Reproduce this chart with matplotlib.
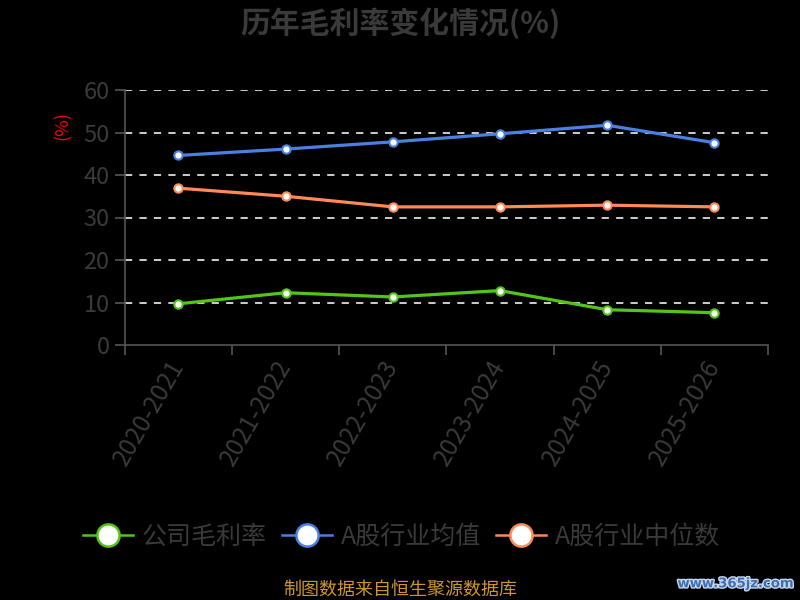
import numpy as np
import matplotlib
matplotlib.use('Agg')
import matplotlib.pyplot as plt
import matplotlib.patheffects as pe
from matplotlib.lines import Line2D

plt.rcParams['font.family'] = ['Noto Sans CJK SC', 'DejaVu Sans']

# Data
years = ['2020-2021', '2021-2022', '2022-2023', '2023-2024', '2024-2025', '2025-2026']
company = [9.7, 12.3, 11.3, 12.8, 8.3, 7.6]
industry_mean = [44.6, 46.1, 47.8, 49.7, 51.7, 47.6]
industry_median = [36.9, 35.0, 32.5, 32.5, 32.9, 32.5]
labels = ['公司毛利率', 'A股行业均值', 'A股行业中位数']
colors = ['#52c41a', '#4a80e0', '#ff8a56']

text_color = '#3a3a3a'

fig = plt.figure(figsize=(8, 6), dpi=100, facecolor='black')
ax = fig.add_axes([0.156, 0.425, 0.804, 0.425])
ax.set_facecolor('black')

x = np.arange(len(years))
for vals, c in zip([company, industry_mean, industry_median], colors):
    ax.plot(x, vals, color=c, lw=2.3, marker='o', markersize=6,
            markerfacecolor='white', markeredgecolor=c, markeredgewidth=1.5, zorder=3)

ax.set_xlim(-0.5, len(years) - 0.5)
ax.set_ylim(0, 60)
ax.set_yticks(np.arange(0, 61, 10))
ax.tick_params(axis='y', colors='#555555', labelcolor=text_color, labelsize=17,
               length=7, width=1.2, pad=4)

# category labels at centers, tick marks at boundaries
ax.set_xticks(x)
ax.set_xticklabels(years, rotation=60, ha='right', va='center', rotation_mode='anchor',
                   color=text_color, fontsize=17.5)
ax.tick_params(axis='x', which='major', length=0, pad=12)
ax.set_xticks(np.arange(-0.5, len(years)), minor=True)
ax.tick_params(axis='x', which='minor', length=7, width=1.2, colors='#555555')

for v in np.arange(10, 61, 10):
    ax.axhline(v, color='#dddddd', lw=1.3, ls=(0, (4, 4)), zorder=1)

for s in ['top', 'right']:
    ax.spines[s].set_visible(False)
ax.spines['left'].set_color('#555555')
ax.spines['bottom'].set_color('#555555')
ax.spines['left'].set_linewidth(1.2)
ax.spines['bottom'].set_linewidth(1.2)

fig.text(0.079, 0.79, '(%)', color='red', rotation=90, fontsize=13, ha='center', va='center')

fig.text(0.5, 0.962, '历年毛利率变化情况(%)', color=text_color, fontsize=21.5,
         fontweight='bold', ha='center', va='center')

handles = [Line2D([0], [0], color=c, lw=1.8, marker='o', markersize=16,
                  markerfacecolor='white', markeredgecolor=c, markeredgewidth=1.8)
           for c in colors]
leg = fig.legend(handles, labels, loc='center', bbox_to_anchor=(0.502, 0.105), ncol=3,
                 frameon=False, fontsize=18, handlelength=2.0, columnspacing=0.6,
                 handletextpad=0.35)
for t in leg.get_texts():
    t.set_color(text_color)

fig.text(0.5, 0.017, '制图数据来自恒生聚源数据库', color='#d0962a', fontsize=13,
         ha='center', va='center')
fig.text(0.92, 0.027, 'www.365jz.com', color='#3f6fb0', fontsize=9.5, fontweight='bold',
         ha='center', va='center', family='DejaVu Sans',
         path_effects=[pe.withStroke(linewidth=2, foreground='#c8d8f0')])

fig.savefig('out.png', dpi=100, facecolor='black')
